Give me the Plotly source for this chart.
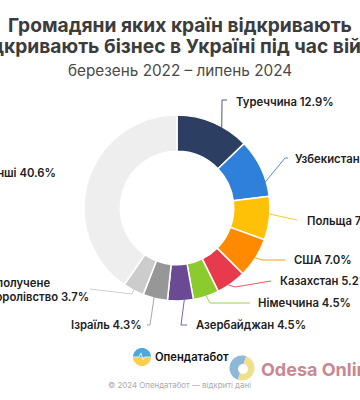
import math
import plotly.graph_objects as go

countries = ["Туреччина", "Узбекистан", "Польща", "США", "Казахстан", "Німеччина",
             "Азербайджан", "Ізраїль", "Сполучене Королівство", "Інші"]
shares = [12.9, 10.2, 7.6, 7.0, 5.2, 4.5, 4.5, 4.3, 3.7, 40.6]
colors = ["#2C3E61", "#2E80DA", "#FFC107", "#FF8A00", "#E73A4C", "#8CCB2E",
          "#6A4A94", "#979797", "#CCCCCC", "#EEEEEE"]
title_lines = ["Громадяни яких країн відкривають", "відкривають бізнес в Україні під час війни"]
subtitle = "березень 2022 – липень 2024"

W, H = 360, 400
CX, CY, R = 177, 208, 92
FONT = "Inter"

def px(x): return x / W
def py(y): return 1 - y / H

label_pos = {
    "Туреччина": (234, 102, "left"), "Узбекистан": (293, 159, "left"),
    "Польща": (305, 221, "left"), "США": (292, 260, "left"),
    "Казахстан": (278, 281, "left"), "Німеччина": (256, 303, "left"),
    "Азербайджан": (194, 325, "left"), "Ізраїль": (144, 325, "right"),
    "Інші": (58, 173, "right"),
}
leader_route = {
    "Туреччина": [(222, 100), (227, 100)], "Узбекистан": [(285, 158), (288, 158)],
    "Польща": [(297, 220)], "США": [(262, 260), (285, 260)],
    "Казахстан": [(235, 287), (271, 281)], "Німеччина": [(210, 303), (250, 303)],
    "Азербайджан": [(181, 325), (187, 325)], "Ізраїль": [(150, 325), (147, 325)],
    "Сполучене Королівство": [(132, 294), (90, 289)],
}
leader_fraction = {"Туреччина": 0.63, "Узбекистан": 0.75, "Польща": 0.4, "США": 0.5,
                   "Казахстан": 0.62, "Німеччина": 0.5, "Азербайджан": 0.35,
                   "Ізраїль": 0.55, "Сполучене Королівство": 0.5}

fig = go.Figure(go.Pie(
    labels=countries, values=shares, sort=False, direction="clockwise", rotation=0,
    hole=0.61, textinfo="none", hoverinfo="label+percent", showlegend=False,
    marker=dict(colors=colors, line=dict(color="white", width=1.5)),
    domain=dict(x=[px(CX - R - 1), px(CX + R + 1)], y=[py(CY + R + 1), py(CY - R - 1)]),
))

shapes, annotations = [], []
total = sum(shares)
LBL = dict(family=FONT, size=11.3, color="#222", weight=600)
cum = 0
for name, val, col in zip(countries, shares, colors):
    if name in leader_route:
        a = math.radians((cum + val * leader_fraction[name]) / total * 360)
        pts = [(CX + R * math.sin(a), CY - R * math.cos(a))] + leader_route[name]
        path = "M " + " L ".join(f"{px(x):.4f},{py(y):.4f}" for x, y in pts)
        shapes.append(dict(type="path", xref="paper", yref="paper", path=path,
                           line=dict(color=col if name != "Сполучене Королівство" else "#C8C8C8", width=1),
                           opacity=0.85))
    if name in label_pos:
        x, y, anchor = label_pos[name]
        annotations.append(dict(text=f"{name} {val}%", x=px(x), y=py(y), xref="paper", yref="paper",
                                xanchor=anchor, yanchor="middle", showarrow=False, font=LBL))
    cum += val

uk_val = shares[countries.index("Сполучене Королівство")]
for text, x, y in [("Сполучене", -14, 283), (f"Королівство {uk_val}%", -14, 297)]:
    annotations.append(dict(text=text, x=px(x), y=py(y), xref="paper", yref="paper", xanchor="left",
                            yanchor="middle", showarrow=False, font=LBL))

for line, y in zip(title_lines, [25, 45.5]):
    annotations.append(dict(text=line, x=px(179.5), y=py(y), xref="paper", yref="paper", xanchor="center",
                            yanchor="middle", showarrow=False,
                            font=dict(family=FONT, size=19.2, color="#3C3C3C", weight=700)))
annotations.append(dict(text=subtitle, x=px(180), y=py(70), xref="paper", yref="paper", xanchor="center",
                        yanchor="middle", showarrow=False,
                        font=dict(family=FONT, size=15.3, color="#4A4A4A")))
annotations.append(dict(text="Опендатабот", x=px(153), y=py(357), xref="paper", yref="paper", xanchor="left",
                        yanchor="middle", showarrow=False,
                        font=dict(family=FONT, size=11.2, color="#111", weight=600)))
annotations.append(dict(text="© 2024 Опендатабот — відкриті дані", x=px(179.5), y=py(385), xref="paper",
                        yref="paper", xanchor="center", yanchor="middle", showarrow=False,
                        font=dict(family=FONT, size=7.9, color="#ABABAB")))
annotations.append(dict(text="Odesa Online", x=px(259), y=py(369), xref="paper", yref="paper", xanchor="left",
                        yanchor="middle", showarrow=False,
                        font=dict(family=FONT, size=18, color="#C98792", weight=700)))

def circ(cx, cy, r, col, op=1.0):
    return dict(type="circle", xref="paper", yref="paper", x0=px(cx - r), x1=px(cx + r),
                y0=py(cy + r), y1=py(cy - r), fillcolor=col, line=dict(width=0), opacity=op)

def half(cx, cy, r, col, start, end):
    pts = []
    for i in range(25):
        t = math.radians(start + (end - start) * i / 24)
        pts.append((cx + r * math.cos(t), cy - r * math.sin(t)))
    path = "M " + " L ".join(f"{px(x):.4f},{py(y):.4f}" for x, y in pts) + " Z"
    return dict(type="path", xref="paper", yref="paper", path=path, fillcolor=col, line=dict(width=0))

shapes += [half(142, 357, 9, "#4FA8DC", 0, 180), half(142, 357, 9, "#F7CF4D", 180, 360)]
shapes.append(dict(type="path", xref="paper", yref="paper", line=dict(color="#DDEFF5", width=1),
                   path="M " + " L ".join(f"{px(x):.4f},{py(y):.4f}" for x, y in
                                          [(133, 357), (139, 357), (141, 353), (143, 360), (145, 357), (151, 357)])))
shapes += [half(242, 368, 12.5, "#8DB8D8", 70, 250), half(242, 368, 12.5, "#EFE08C", 250, 430),
           circ(243, 369, 5, "white")]

fig.update_layout(width=W, height=H, margin=dict(l=0, r=0, t=0, b=0), paper_bgcolor="white",
                  plot_bgcolor="white", shapes=shapes, annotations=annotations)
fig.write_html("out.html", config={"displayModeBar": False},
               post_script="document.body.style.margin='0';document.body.style.overflow='hidden';")
